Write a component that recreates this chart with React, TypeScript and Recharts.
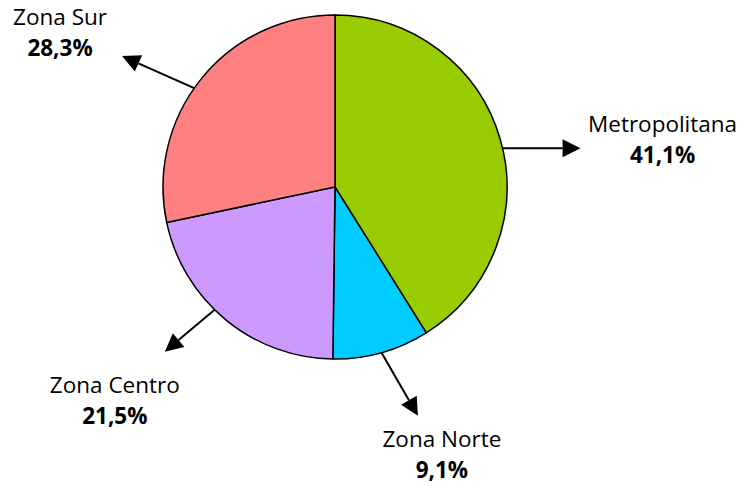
import { PieChart, Pie, Cell } from 'recharts'

const zones = ['Metropolitana', 'Zona Norte', 'Zona Centro', 'Zona Sur']
const shares = [41.1, 9.1, 21.5, 28.3]
const colors = ['#99CC00', '#00CCFF', '#CC99FF', '#FF8080']

// arrow tweaks per slice: shift of the start point (deg), arrow direction (deg), length, text offset
const arrows = [
  { shift: -3, dir: 0, len: 78, tx: 82, ty: -25 },
  { shift: 0, dir: -60, len: 73, tx: 24, ty: 23 },
  { shift: -5, dir: -140, len: 65, tx: -50, ty: 33 },
  { shift: 4, dir: 156, len: 79, tx: -62, ty: -40 },
]

const data = zones.map((name, i) => ({ name, value: shares[i] }))

const RAD = Math.PI / 180
const FONT = '"Open Sans", sans-serif'

function renderLabel(props: any) {
  const { cx, cy, midAngle, outerRadius, index, name, value } = props
  const a = arrows[index]
  const ang = (midAngle + a.shift) * RAD
  const sx = cx + outerRadius * Math.cos(ang)
  const sy = cy - outerRadius * Math.sin(ang)
  const d = a.dir * RAD
  const ex = sx + a.len * Math.cos(d)
  const ey = sy - a.len * Math.sin(d)
  // arrow head
  const hl = 18
  const hw = 9
  const ux = Math.cos(d)
  const uy = -Math.sin(d)
  const bx = ex - ux * hl
  const by = ey - uy * hl
  const head = `${ex},${ey} ${bx - uy * hw},${by + ux * hw} ${bx + uy * hw},${by - ux * hw}`
  const lx = ex + a.tx
  const ly = ey + a.ty
  return (
    <g>
      <line x1={sx} y1={sy} x2={bx} y2={by} stroke="#000" strokeWidth={2} />
      <polygon points={head} fill="#000" />
      <text x={lx} y={ly} textAnchor="middle" dominantBaseline="central" fontFamily={FONT} fontSize={22.5} fill="#000">
        {name}
      </text>
      <text x={lx} y={ly + 31} textAnchor="middle" dominantBaseline="central" fontFamily={FONT} fontSize={22.5} fontWeight="bold" fill="#000">
        {value.toFixed(1).replace('.', ',')}%
      </text>
    </g>
  )
}

export default function App() {
  return (
    <div style={{ position: 'absolute', left: 0, top: 0, width: 748, height: 486, background: '#fff' }}>
      <PieChart width={748} height={486} margin={{ top: 0, right: 0, bottom: 0, left: 0 }}>
        <Pie
          data={data}
          dataKey="value"
          nameKey="name"
          cx={335}
          cy={187}
          outerRadius={172}
          startAngle={90}
          endAngle={-270}
          stroke="#000"
          strokeWidth={1.5}
          label={renderLabel}
          labelLine={false}
          isAnimationActive={false}
        >
          {data.map((d, i) => (
            <Cell key={d.name} fill={colors[i]} />
          ))}
        </Pie>
      </PieChart>
    </div>
  )
}
